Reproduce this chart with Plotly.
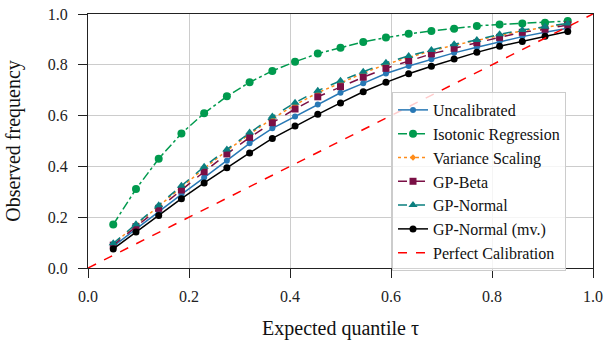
import plotly.graph_objects as go

tau = [0.05, 0.095, 0.14, 0.185, 0.23, 0.275, 0.32, 0.365, 0.41, 0.455, 0.5,
       0.545, 0.59, 0.635, 0.68, 0.725, 0.77, 0.815, 0.86, 0.905, 0.95]

uncalibrated = [0.085, 0.154, 0.222, 0.29, 0.356, 0.422, 0.491, 0.55, 0.596, 0.644, 0.69,
                0.727, 0.766, 0.795, 0.822, 0.847, 0.869, 0.891, 0.911, 0.928, 0.944]
isotonic = [0.171, 0.311, 0.430, 0.530, 0.609, 0.676, 0.731, 0.776, 0.812, 0.844, 0.867,
            0.89, 0.907, 0.922, 0.933, 0.942, 0.953, 0.959, 0.963, 0.966, 0.972]
variance_scaling = [0.095, 0.17, 0.243, 0.318, 0.392, 0.462, 0.527, 0.588, 0.642, 0.69, 0.73,
                    0.767, 0.802, 0.83, 0.855, 0.877, 0.896, 0.916, 0.934, 0.947, 0.961]
gp_beta = [0.09, 0.163, 0.235, 0.307, 0.379, 0.449, 0.514, 0.572, 0.626, 0.674, 0.714,
           0.751, 0.786, 0.816, 0.843, 0.865, 0.887, 0.908, 0.928, 0.94, 0.957]
gp_normal = [0.097, 0.172, 0.247, 0.324, 0.399, 0.467, 0.533, 0.596, 0.651, 0.698, 0.737,
             0.773, 0.808, 0.835, 0.858, 0.881, 0.898, 0.920, 0.937, 0.950, 0.963]
gp_normal_mv = [0.075, 0.142, 0.207, 0.273, 0.335, 0.395, 0.453, 0.510, 0.559, 0.605, 0.650,
                0.694, 0.731, 0.765, 0.794, 0.823, 0.849, 0.873, 0.892, 0.912, 0.931]
perfect_x = [0.0, 1.0]
perfect_y = [0.0, 1.0]

ticks = [0.0, 0.2, 0.4, 0.6, 0.8, 1.0]
tick_text = ["0.0", "0.2", "0.4", "0.6", "0.8", "1.0"]

SERIF = "Liberation Serif, Times New Roman, serif"

series = [
    ("Uncalibrated", uncalibrated, "#2878b5", "solid", "circle", 6),
    ("Isotonic Regression", isotonic, "#009a4e", "dashdot", "circle", 8),
    ("Variance Scaling", variance_scaling, "#ff8c1a", "dot", "diamond", 5),
    ("GP-Beta", gp_beta, "#7a0f45", "dash", "square", 7),
    ("GP-Normal", gp_normal, "#0a7f7f", "dash", "triangle-up", 8),
    ("GP-Normal (mv.)", gp_normal_mv, "#000000", "solid", "circle", 7),
]

fig = go.Figure()
for name, ys, color, dash, sym, size in series:
    fig.add_trace(go.Scatter(
        x=tau, y=ys, name=name, mode="lines+markers",
        line=dict(color=color, width=1.5, dash=dash),
        marker=dict(color=color, symbol=sym, size=size),
    ))
fig.add_trace(go.Scatter(
    x=perfect_x, y=perfect_y, name="Perfect Calibration", mode="lines",
    line=dict(color="#ff0000", width=1.5, dash="dash"),
))

axis_common = dict(
    range=[0, 1], tickvals=ticks, ticktext=tick_text,
    showgrid=True, gridcolor="#cccccc", gridwidth=1.4,
    showline=True, linecolor="#222222", linewidth=1.3, mirror=True,
    ticks="outside", ticklen=9, tickcolor="#222222", tickwidth=1.2,
    zeroline=False, tickfont=dict(size=16, color="#222222", family=SERIF),
    automargin=False, ticklabeloverflow="allow",
)

fig.update_layout(
    width=604, height=347,
    margin=dict(l=88, r=11, t=14, b=79),
    paper_bgcolor="white", plot_bgcolor="white",
    font=dict(family=SERIF, color="#111111"),
    xaxis=dict(title=dict(text="Expected quantile τ", font=dict(size=20, family=SERIF),
                          standoff=16),
               ticklabelstandoff=5, **axis_common),
    yaxis=dict(title=dict(text="Observed frequency", font=dict(size=20, family=SERIF),
                          standoff=21),
               ticklabelstandoff=7, **axis_common),
    legend=dict(
        x=0.602, y=0.693, xanchor="left", yanchor="top",
        bgcolor="rgba(255,255,255,0.8)", bordercolor="#cccccc", borderwidth=1,
        font=dict(size=16, color="#111111", family=SERIF),
        tracegroupgap=0, itemwidth=30,
    ),
    showlegend=True,
)

# remove the page's default body margin so the figure fills the window exactly
fig.write_html("out.html",
               config={"displayModeBar": False},
               post_script="document.body.style.margin='0';document.body.style.overflow='hidden';")
